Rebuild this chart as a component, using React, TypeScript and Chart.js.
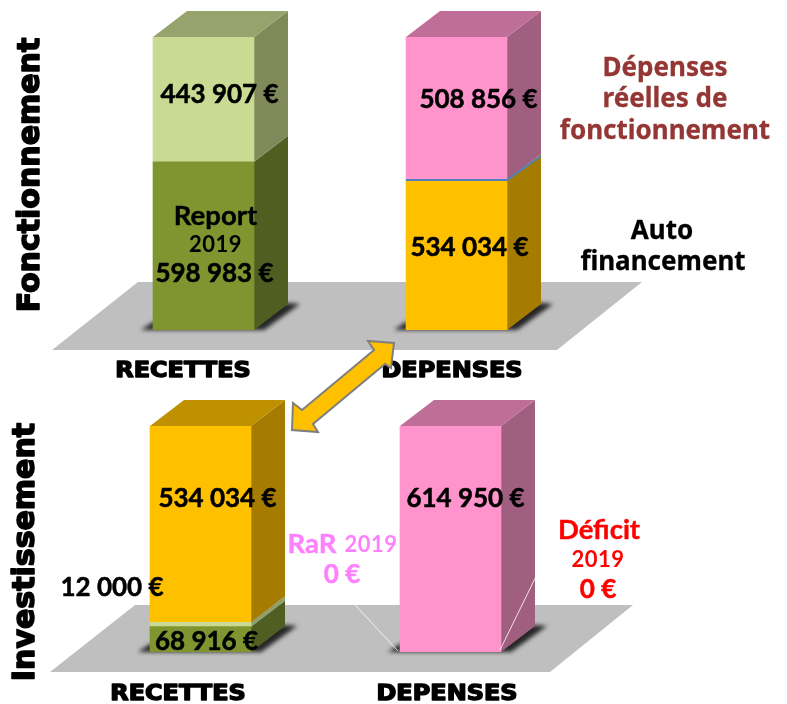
import React, { useEffect, useRef } from "react";
import { Chart, registerables } from "chart.js";

Chart.register(...registerables);

const categories = ["RECETTES", "DEPENSES"];
const fonctionnementBase = [598983, 534034];
const fonctionnementTop = [443907, 508856];
const investissementBase = [68916, 614950];
const investissementMiddle = [12000, 0];
const investissementTop = [534034, 0];
const fonctionnementMax = 1042890;
const investissementMax = 614950;

const COLORS: Record<string, [string, string, string]> = {
  lime: ["#C9DA93", "#80895A", "#97A36D"],
  olive: ["#809530", "#505F21", "#6A7A2C"],
  pink: ["#FF93CB", "#A15F80", "#BF6E97"],
  gold: ["#FFC000", "#A67C00", "#BF9000"],
};

const fmt = (v: number) => {
  const s = String(v);
  return s.length > 3 ? `${s.slice(0, -3)} ${s.slice(-3)} €` : `${s} €`;
};

const GILL = '"Lato", sans-serif';
const BLACK = '"DejaVu Sans", sans-serif';
const TAHOMA = '"Noto Sans", sans-serif';

function text(ctx: CanvasRenderingContext2D, s: string, x: number, y: number, font: string, color = "#000", spacing = "0px", strokeW = 0, scaleX = 1) {
  ctx.save();
  ctx.translate(x, y);
  ctx.scale(scaleX, 1);
  ctx.font = font;
  (ctx as any).letterSpacing = spacing;
  ctx.fillStyle = color;
  ctx.textAlign = "center";
  ctx.textBaseline = "middle";
  if (strokeW) {
    ctx.strokeStyle = color;
    ctx.lineWidth = strokeW;
    ctx.lineJoin = "round";
    ctx.strokeText(s, 0, 0);
  }
  ctx.fillText(s, 0, 0);
  ctx.restore();
}

function poly(ctx: CanvasRenderingContext2D, pts: number[][], fill: string) {
  ctx.beginPath();
  pts.forEach((p, i) => (i ? ctx.lineTo(p[0], p[1]) : ctx.moveTo(p[0], p[1])));
  ctx.closePath();
  ctx.fillStyle = fill;
  ctx.fill();
}

const DX = 34;
const DY = 26;

function make3d(floor: number[][]) {
  return {
    id: "box3d",
    beforeDatasetsDraw(chart: any) {
      const ctx: CanvasRenderingContext2D = chart.ctx;
      ctx.save();
      poly(ctx, floor, "#BFBFBF");
      const m0 = chart.getDatasetMeta(0).data;
      m0.forEach((b: any) => {
        const L = b.x - b.width / 2;
        const R = b.x + b.width / 2;
        const B = b.base;
        ctx.save();
        (ctx as any).filter = "blur(2px)";
        poly(ctx, [[L - 12, B], [L, B - 8], [R + DX, B - DY - 1], [R + DX + 12, B - DY], [R + 10, B]], "#262626");
        ctx.restore();
      });
      chart.data.datasets.forEach((ds: any, i: number) => {
        const bars = chart.getDatasetMeta(i).data;
        bars.forEach((b: any, j: number) => {
          if (!ds.data[j]) return;
          const L = b.x - b.width / 2;
          const R = b.x + b.width / 2;
          const side = ds.faces[j][1];
          poly(ctx, [[R, b.base], [R + DX, b.base - DY], [R + DX, b.y - DY], [R, b.y]], side);
          let top = true;
          for (let k = i + 1; k < chart.data.datasets.length; k++) if (chart.data.datasets[k].data[j]) top = false;
          if (top) poly(ctx, [[L, b.y], [L + DX, b.y - DY], [R + DX, b.y - DY], [R, b.y]], ds.faces[j][2]);
        });
      });
      ctx.restore();
    },
  };
}

const NUM = `bold 26px ${GILL}`;
const HEAD = `bold 27.5px ${GILL}`;
const YEAR = `bold 22px ${GILL}`;
const CAT = `bold 21px ${BLACK}`;
const SIDE = `bold 30px ${BLACK}`;
const NOTE = `bold 26px ${TAHOMA}`;

const labelsTop = {
  id: "labelsTop",
  afterDatasetsDraw(chart: any) {
    const ctx = chart.ctx;
    const base = chart.getDatasetMeta(0).data;
    const top = chart.getDatasetMeta(1).data;
    const s = base[1];
    ctx.save();
    ctx.strokeStyle = "#4F81BD";
    ctx.lineWidth = 2;
    ctx.beginPath();
    ctx.moveTo(s.x - s.width / 2, s.y);
    ctx.lineTo(s.x + s.width / 2, s.y);
    ctx.lineTo(s.x + s.width / 2 + DX, s.y - DY + 2);
    ctx.stroke();
    ctx.restore();

    text(ctx, fmt(fonctionnementTop[0]), top[0].x + 16, top[0].y + 58, NUM, "#000", "0px", 0.5);
    text(ctx, "Report", base[0].x + 12, 216, HEAD, "#000", "0px", 0.4);
    text(ctx, "2019", base[0].x + 12, 245, YEAR, "#000", "0.5px");
    text(ctx, fmt(fonctionnementBase[0]), base[0].x + 11, 274, NUM, "#000", "0px", 0.5);
    text(ctx, fmt(fonctionnementTop[1]), top[1].x + 22, top[1].y + 63, NUM, "#000", "0px", 0.5);
    text(ctx, fmt(fonctionnementBase[1]), base[1].x + 13, 248, NUM, "#000", "0px", 0.5);

    text(ctx, categories[0], 183, 372, CAT, "#000", "0px", 1.4, 1.14);
    text(ctx, categories[1], 452, 372, CAT, "#000", "0px", 1.4, 1.14);

    text(ctx, "Dépenses", 665, 69, NOTE, "#943634", "0px", 0.3);
    text(ctx, "réelles de", 665, 100, NOTE, "#943634", "0px", 0.3);
    text(ctx, "fonctionnement", 665, 132, NOTE, "#943634", "0px", 0.3);
    text(ctx, "Auto", 662, 232, NOTE, "#000", "0px", 0.3);
    text(ctx, "financement", 663, 263, NOTE, "#000", "0px", 0.3);

    ctx.save();
    ctx.translate(31, 175);
    ctx.rotate(-Math.PI / 2);
    text(ctx, "Fonctionnement", 0, 0, SIDE, "#000", "0px", 1.6);
    ctx.restore();
  },
};

const labelsBottom = {
  id: "labelsBottom",
  afterDatasetsDraw(chart: any) {
    const ctx = chart.ctx;
    const base = chart.getDatasetMeta(0).data;
    const top = chart.getDatasetMeta(2).data;

    text(ctx, fmt(investissementTop[0]), top[0].x + 17, top[0].y + 73, NUM, "#000", "0px", 0.5);
    text(ctx, fmt(investissementBase[0]), base[0].x + 6, 642, NUM, "#000", "0px", 0.5);
    text(ctx, fmt(investissementMiddle[0]), 112, 588, NUM, "#000", "0px", 0.5);
    text(ctx, fmt(investissementBase[1]), base[1].x + 15, 499, NUM, "#000", "0px", 0.5);

    ctx.save();
    ctx.strokeStyle = "rgba(255,255,255,0.8)";
    ctx.lineWidth = 1;
    ctx.beginPath();
    ctx.moveTo(343, 592);
    ctx.lineTo(398, 651);
    ctx.moveTo(500, 650);
    ctx.lineTo(545, 558);
    ctx.lineTo(550, 558);
    ctx.stroke();
    ctx.restore();

    text(ctx, "RaR", 312, 544, HEAD, "#FF80FF", "0px", 0.4);
    text(ctx, "2019", 371, 545, YEAR, "#FF80FF", "0.5px");
    text(ctx, fmt(0), 342, 575, NUM, "#FF80FF", "0px", 0.5);
    text(ctx, "Déficit", 599, 530, HEAD, "#FF0000", "0px", 0.4);
    text(ctx, "2019", 598, 560, YEAR, "#FF0000", "0.5px");
    text(ctx, fmt(0), 598, 590, NUM, "#FF0000", "0px", 0.5);

    text(ctx, categories[0], 178, 695, CAT, "#000", "0px", 1.4, 1.14);
    text(ctx, categories[1], 447, 695, CAT, "#000", "0px", 1.4, 1.14);

    ctx.save();
    ctx.translate(26, 552);
    ctx.rotate(-Math.PI / 2);
    text(ctx, "Investissement", 0, 0, SIDE, "#000", "0px", 1.6);
    ctx.restore();

    ctx.save();
    ctx.lineJoin = "miter";
    ctx.lineWidth = 2;
    ctx.strokeStyle = "#7F7F7F";
    poly(ctx, [[394, 343], [391, 368], [385, 364], [313, 424], [318, 432], [292, 430], [293, 403], [302, 410], [374, 350], [368, 341]], "#FFC000");
    ctx.stroke();
    ctx.restore();
  },
};

function buildOptions(max: number, left: number, right: number, top: number, bottom: number) {
  return {
    responsive: false,
    animation: false as const,
    layout: { padding: { left, right, top, bottom } },
    plugins: { legend: { display: false }, tooltip: { enabled: false } },
    scales: {
      x: { display: false, stacked: true, grid: { display: false } },
      y: { display: false, stacked: true, min: 0, max, grid: { display: false } },
    },
  };
}

function ds(data: number[], faces: [string, string, string][]) {
  return {
    data,
    faces,
    backgroundColor: faces.map((f) => f[0]),
    borderWidth: 0,
    barThickness: 101,
  };
}

export default function App() {
  const a = useRef<HTMLCanvasElement>(null);
  const b = useRef<HTMLCanvasElement>(null);
  useEffect(() => {
    document.body.style.background = "#fff";
    const c1 = new Chart(a.current!, {
      type: "bar",
      data: {
        labels: categories,
        datasets: [
          ds(fonctionnementBase, [COLORS.olive, COLORS.gold]),
          ds(fonctionnementTop, [COLORS.lime, COLORS.pink]),
        ] as any,
      },
      options: buildOptions(fonctionnementMax, 77, 787 - 583, 37, 704 - 330) as any,
      plugins: [make3d([[52, 350], [138, 282], [642, 282], [557, 350]]), labelsTop] as any,
    });
    const c2 = new Chart(b.current!, {
      type: "bar",
      data: {
        labels: categories,
        datasets: [
          ds(investissementBase, [COLORS.olive, COLORS.pink]),
          ds(investissementMiddle, [["#C9DA93", "#8F9F6E", "#97A36D"], COLORS.pink]),
          ds(investissementTop, [COLORS.gold, COLORS.pink]),
        ] as any,
      },
      options: buildOptions(investissementMax, 75.5, 787 - 575.5, 426, 704 - 652) as any,
      plugins: [make3d([[50, 672], [135, 605], [633, 605], [550, 672]]), labelsBottom] as any,
    });
    return () => {
      c1.destroy();
      c2.destroy();
    };
  }, []);
  const style: React.CSSProperties = { position: "absolute", left: 0, top: 0, filter: "blur(0.6px)" };
  return (
    <div style={{ position: "absolute", left: 0, top: 0, width: 787, height: 704, overflow: "hidden", background: "#fff" }}>
      <canvas ref={a} width={787} height={704} style={style} />
      <canvas ref={b} width={787} height={704} style={style} />
    </div>
  );
}
